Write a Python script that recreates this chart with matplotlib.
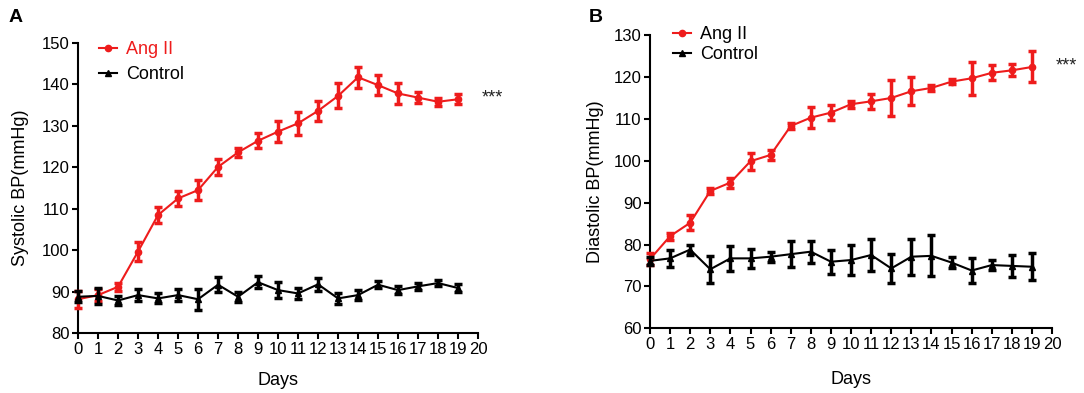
import matplotlib
matplotlib.use("Agg")
import matplotlib.pyplot as plt
from matplotlib.lines import Line2D
import numpy as np

plt.rcParams['font.family'] = ['Liberation Sans', 'DejaVu Sans']

days = list(range(20))

sys_ang = [88.2, 89.2, 91.2, 99.7, 108.5, 112.5, 114.5, 120.1, 123.6, 126.4,
           128.6, 130.6, 133.6, 137.2, 141.7, 139.8, 137.8, 136.8, 135.8, 136.4]
sys_ang_err = [2.0, 1.5, 1.0, 2.2, 2.0, 1.8, 2.5, 2.0, 1.0, 1.8,
               2.5, 2.8, 2.4, 3.0, 2.5, 2.4, 2.5, 1.3, 1.0, 1.2]
sys_ctl = [88.8, 89.0, 87.9, 89.2, 88.4, 89.2, 88.2, 91.7, 88.8, 92.3,
           90.4, 89.6, 91.8, 88.4, 89.2, 91.7, 90.4, 91.3, 92.1, 90.9]
sys_ctl_err = [1.3, 2.0, 1.2, 1.5, 1.2, 1.5, 2.5, 1.8, 1.2, 1.5,
               2.0, 1.3, 1.5, 1.3, 1.2, 0.8, 1.0, 0.8, 0.8, 1.0]

dia_ang = [76.5, 82.0, 85.2, 92.8, 94.8, 99.9, 101.4, 108.3, 110.3, 111.5,
           113.5, 114.2, 115.0, 116.6, 117.4, 118.9, 119.7, 121.0, 121.6, 122.4]
dia_ang_err = [1.5, 0.8, 1.8, 0.8, 1.2, 2.0, 1.2, 0.8, 2.5, 1.8,
               0.8, 1.8, 4.3, 3.3, 0.8, 0.6, 4.0, 1.8, 1.4, 3.7]
dia_ctl = [76.1, 76.7, 78.8, 74.1, 76.7, 76.7, 77.1, 77.7, 78.3, 75.9,
           76.3, 77.5, 74.3, 77.1, 77.3, 75.7, 73.8, 75.1, 74.9, 74.7]
dia_ctl_err = [1.0, 2.0, 1.2, 3.2, 3.0, 2.2, 1.2, 3.1, 2.6, 2.9,
               3.6, 3.8, 3.4, 4.3, 4.9, 1.3, 3.0, 1.2, 2.7, 3.2]

xticks = list(range(21))
sys_yticks = [80, 90, 100, 110, 120, 130, 140, 150]
dia_yticks = [60, 70, 80, 90, 100, 110, 120, 130]

RED = '#ee1c1c'

fig = plt.figure(figsize=(10.84, 3.93), dpi=100)
axA = fig.add_axes([0.0720, 0.152, 0.369, 0.739])
axB = fig.add_axes([0.5996, 0.1646, 0.371, 0.746])


def panel(ax, ang, ang_err, ctl, ctl_err, yticks, ylabel, star_y,
          red_legend_text, leg_anchor, leg_spacing, xpad, ypad):
    ec = ax.errorbar(days, ang, yerr=ang_err, color=RED, marker='o', ms=4.5,
                     lw=1.5, elinewidth=2.5, capsize=3, capthick=2.5,
                     clip_on=False, zorder=3)
    ec2 = ax.errorbar(days, ctl, yerr=ctl_err, color='black', marker='^', ms=5,
                      lw=1.5, elinewidth=2.5, capsize=3, capthick=2.5,
                      clip_on=False, zorder=4)
    for e in (ec, ec2):
        for part in e.lines[1] + e.lines[2]:
            part.set_clip_on(False)
    ax.set_xlim(0, 20)
    ax.set_ylim(yticks[0], yticks[-1])
    ax.set_xticks(xticks)
    ax.set_yticks(yticks)
    for s in ('top', 'right'):
        ax.spines[s].set_visible(False)
    for s in ('left', 'bottom'):
        ax.spines[s].set_linewidth(1.5)
    ax.tick_params(direction='out', length=4, width=1.5, labelsize=12, pad=2)
    ax.set_xlabel('Days', fontsize=13, labelpad=xpad)
    ax.set_ylabel(ylabel, fontsize=13, labelpad=ypad)
    ax.text(20.2, star_y, '***', fontsize=13, color='#222222', va='center', ha='left')
    handles = [Line2D([], [], color=RED, marker='o', ms=4.5, lw=1.5),
               Line2D([], [], color='black', marker='^', ms=5, lw=1.5)]
    leg = ax.legend(handles, ['Ang II', 'Control'], loc='upper left',
                    bbox_to_anchor=leg_anchor, frameon=False,
                    fontsize=13, handlelength=1.0, handletextpad=0.5,
                    labelspacing=leg_spacing, borderaxespad=0)
    if red_legend_text:
        leg.get_texts()[0].set_color(RED)


panel(axA, sys_ang, sys_ang_err, sys_ctl, sys_ctl_err, sys_yticks,
      'Systolic BP(mmHg)', 136.6, True, (0.035, 1.03), 0.45, 11, 9)
panel(axB, dia_ang, dia_ang_err, dia_ctl, dia_ctl_err, dia_yticks,
      'Diastolic BP(mmHg)', 122.6, False, (0.04, 1.055), 0.15, 14, 7)

fig.text(0.008, 0.945, 'A', fontsize=14, fontweight='bold')
fig.text(0.543, 0.945, 'B', fontsize=14, fontweight='bold')

fig.savefig('out.png', dpi=100)
